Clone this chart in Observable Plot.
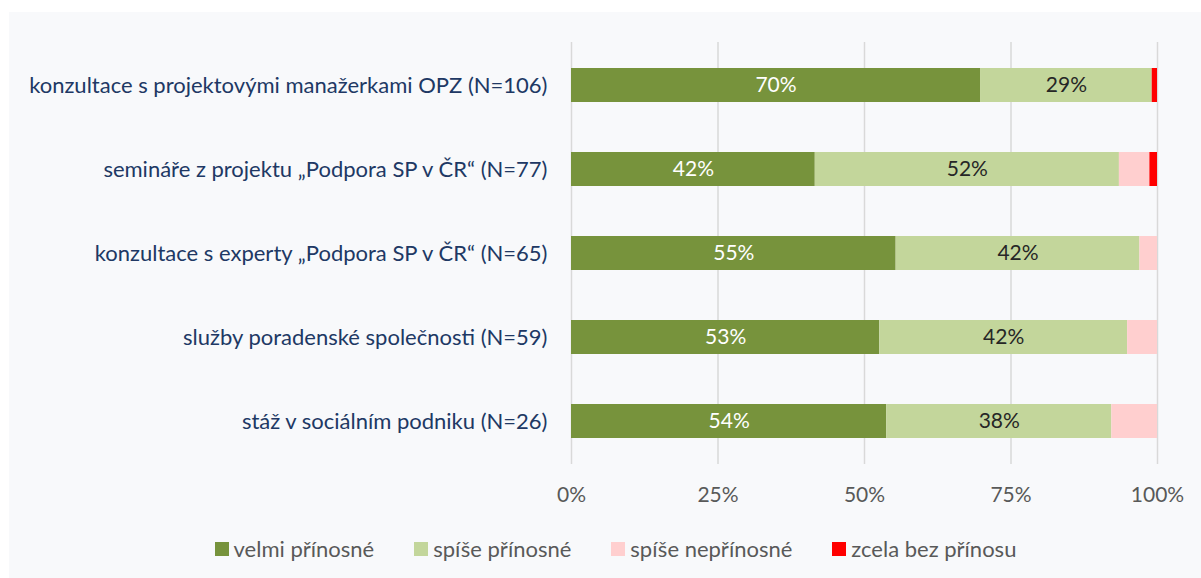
<!DOCTYPE html>
<html>
<head>
<meta charset="utf-8">
<script src="https://cdn.jsdelivr.net/npm/d3@7"></script>
<script src="https://cdn.jsdelivr.net/npm/@observablehq/plot@0.6"></script>
<style>
  html, body { margin: 0; padding: 0; background: #ffffff; }
  #wrap { position: relative; width: 1201px; height: 578px; overflow: hidden; }
  #panel { position: absolute; left: 9px; top: 12px; width: 1192px; height: 566px; background: #f8f9fb; }
  #chart { position: absolute; left: 0; top: 0; }
  #legend { position: absolute; left: 30px; top: 535px; width: 1171px; display: flex; justify-content: center;
            font-family: Lato, "Open Sans", sans-serif; font-size: 22px; color: #595959; }
  .item { display: flex; align-items: center; margin: 0 20px; }
  .sw { width: 14px; height: 14px; margin-right: 5px; }
</style>
</head>
<body>
<div id="wrap"><div id="panel"></div><div id="chart"></div><div id="legend"></div></div>
<script>
const categories = [
  "konzultace s projektovými manažerkami OPZ (N=106)",
  "semináře z projektu „Podpora SP v ČR“ (N=77)",
  "konzultace s experty „Podpora SP v ČR“ (N=65)",
  "služby poradenské společnosti (N=59)",
  "stáž v sociálním podniku (N=26)"
];
const series = ["velmi přínosné", "spíše přínosné", "spíše nepřínosné", "zcela bez přínosu"];
const colors = ["#77933c", "#c3d69b", "#ffcfcf", "#ff0000"];
const velmi = [69.8, 41.6, 55.4, 52.6, 53.8];
const spise = [29.3, 51.9, 41.6, 42.3, 38.4];
const spiseNe = [0, 5.2, 3.0, 5.1, 7.8];
const zcela = [0.9, 1.3, 0, 0, 0];
const xTicks = [0, 25, 50, 75, 100];

const valuesBySeries = [velmi, spise, spiseNe, zcela];
const data = [];
series.forEach((s, si) => categories.forEach((c, ci) => {
  data.push({category: c, series: s, value: valuesBySeries[si][ci]});
}));

const font = "Lato, 'Open Sans', sans-serif";
const chart = Plot.plot({
  width: 1201,
  height: 520,
  marginLeft: 571,
  marginRight: 44,
  marginTop: 42,
  marginBottom: 56,
  style: {background: "transparent", fontFamily: font},
  x: {domain: [0, 100]},
  y: {domain: categories, padding: 0.6, paddingOuter: 0.3},
  color: {domain: series, range: colors},
  marks: [
    Plot.gridX(xTicks, {stroke: "#d9d9d9", strokeOpacity: 1, strokeWidth: 1.5}),
    Plot.barX(data, {x: "value", y: "category", fill: "series"}),
    Plot.text(data, Plot.stackX({x: "value", y: "category", z: "series",
      text: d => d.series === series[0] ? Math.round(d.value) + "%" : "",
      fill: "white", fontSize: 21})),
    Plot.text(data, Plot.stackX({x: "value", y: "category", z: "series",
      text: d => d.series === series[1] ? Math.round(d.value) + "%" : "",
      fill: "#262626", fontSize: 21})),
    Plot.axisY({tickSize: 0, tickPadding: 24, fontSize: 22, color: "#203864", label: null}),
    Plot.axisX(xTicks, {tickSize: 0, tickPadding: 23, fontSize: 21, color: "#595959",
      tickFormat: d => d + "%", label: null})
  ]
});
document.getElementById("chart").appendChild(chart);

const legend = document.getElementById("legend");
series.forEach((s, i) => {
  const it = document.createElement("div");
  it.className = "item";
  const sw = document.createElement("div");
  sw.className = "sw";
  sw.style.background = colors[i];
  const t = document.createElement("span");
  t.textContent = s;
  it.appendChild(sw); it.appendChild(t);
  legend.appendChild(it);
});
</script>
</body>
</html>
